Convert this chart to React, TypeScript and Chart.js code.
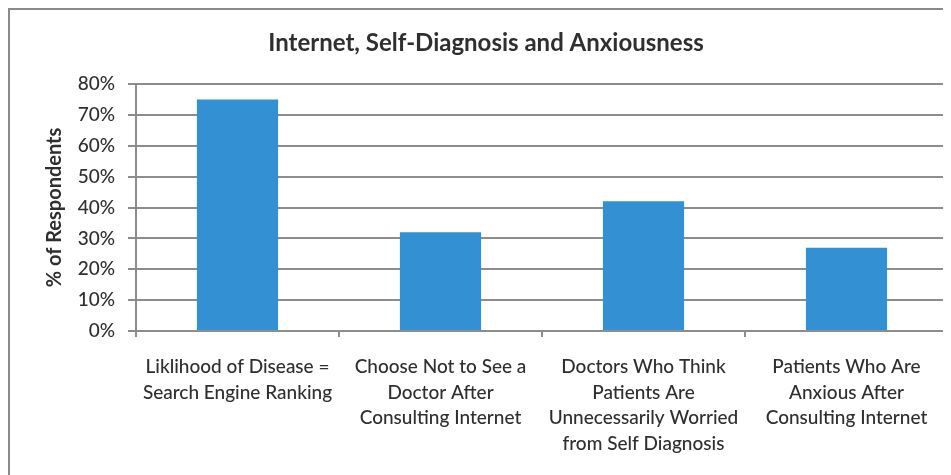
import React, { useEffect, useRef } from "react";
import { Chart, registerables } from "chart.js";

Chart.register(...registerables);

const chartTitle = "Internet, Self-Diagnosis and Anxiousness";
const yAxisTitle = "% of Respondents";
const categories: string[][] = [
  ["Liklihood of Disease =", "Search Engine Ranking"],
  ["Choose Not to See a", "Doctor After", "Consulting Internet"],
  ["Doctors Who Think", "Patients Are", "Unnecessarily Worried", "from Self Diagnosis"],
  ["Patients Who Are", "Anxious After", "Consulting Internet"],
];
const respondentValues: number[] = [0.75, 0.32, 0.42, 0.27];
const yTicks: number[] = [0, 0.1, 0.2, 0.3, 0.4, 0.5, 0.6, 0.7, 0.8];

const FONT = "Lato, 'Open Sans', sans-serif";
const TEXT = "#2f2f2f";
const GRID = "#8d8d8d";
const BAR = "#3390d3";

const titlePlugin = {
  id: "customTitle",
  afterDraw(chart: any) {
    const ctx = chart.ctx;
    ctx.save();
    ctx.font = `bold 24px ${FONT}`;
    ctx.fillStyle = TEXT;
    ctx.textAlign = "center";
    ctx.textBaseline = "middle";
    ctx.fillText(chartTitle, 478, 35);
    ctx.restore();
  },
};

export default function App() {
  const ref = useRef<HTMLCanvasElement | null>(null);
  useEffect(() => {
    if (!ref.current) return;
    const chart = new Chart(ref.current, {
      type: "bar",
      data: {
        labels: categories,
        datasets: [
          {
            data: respondentValues,
            backgroundColor: BAR,
            borderWidth: 0,
            barPercentage: 0.4,
            categoryPercentage: 1,
          },
        ],
      },
      plugins: [titlePlugin],
      options: {
        animation: false,
        responsive: false,
        maintainAspectRatio: false,
        layout: { padding: { left: 0, right: 3, top: 76, bottom: 0 } },
        plugins: {
          legend: { display: false },
          tooltip: { enabled: false },
          title: { display: false },
        },
        scales: {
          x: {
            grid: {
              drawOnChartArea: false,
              drawTicks: true,
              tickLength: 6,
              color: GRID,
              lineWidth: 2,
              offset: true,
            },
            border: { display: true, color: GRID, width: 2 },
            ticks: {
              color: TEXT,
              font: { family: FONT, size: 19, weight: 500, lineHeight: 1.35 },
              padding: 17,
              maxRotation: 0,
              autoSkip: false,
            },
            afterFit(scale: any) {
              scale.height = 467 - 323;
            },
          },
          y: {
            min: 0,
            max: 0.8,
            afterBuildTicks(scale: any) {
              scale.ticks = yTicks.map((v) => ({ value: v }));
            },
            grid: {
              color: GRID,
              lineWidth: 2,
              tickLength: 8,
              drawTicks: true,
            },
            border: { display: true, color: GRID, width: 2 },
            ticks: {
              color: TEXT,
              font: { family: FONT, size: 19, weight: 500 },
              padding: 13,
              callback: (v: any) => `${Math.round(Number(v) * 100)}%`,
            },
            title: {
              display: true,
              text: yAxisTitle,
              color: TEXT,
              font: { family: FONT, size: 20, weight: "bold", lineHeight: 1.2 },
              padding: { top: 35, bottom: 0 },
            },
            afterFit(scale: any) {
              scale.width = 128;
            },
          },
        },
      },
    });
    return () => chart.destroy();
  }, []);

  return (
    <div
      style={{
        width: 943,
        height: 467,
        borderLeft: "2px solid #8a8a8a",
        borderTop: "2px solid #8a8a8a",
        boxSizing: "border-box",
        position: "relative",
        background: "#fff",
      }}
    >
      <canvas
        ref={ref}
        width={943}
        height={467}
        style={{ position: "absolute", left: -2, top: -2, display: "block" }}
      />
    </div>
  );
}
